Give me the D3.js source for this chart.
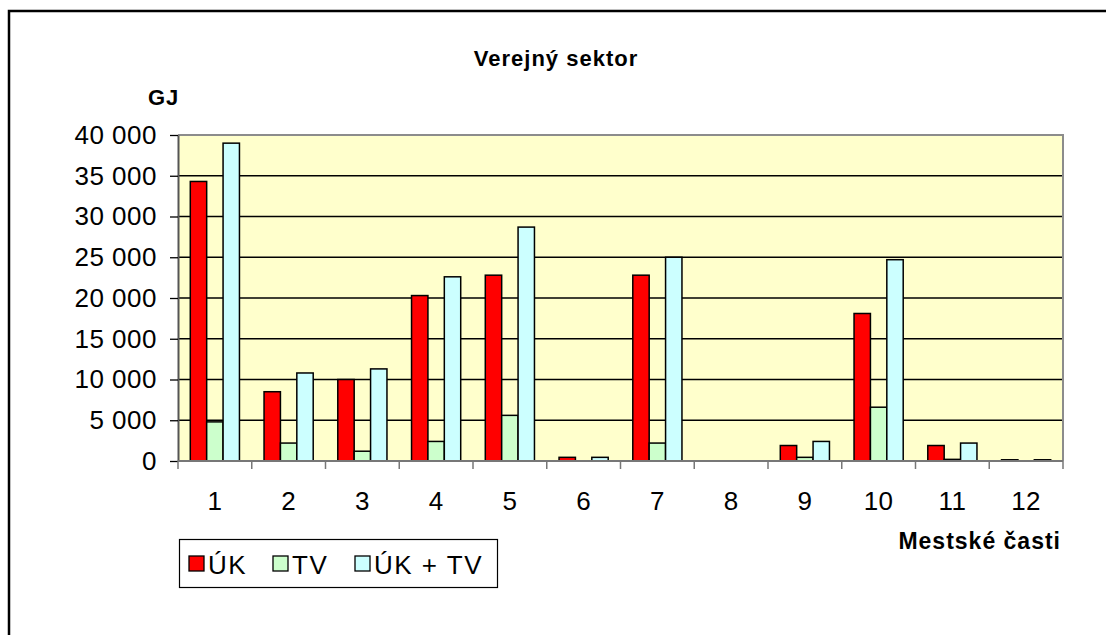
<!DOCTYPE html>
<html>
<head>
<meta charset="utf-8">
<script src="https://cdn.jsdelivr.net/npm/d3@7"></script>
<style>
	body { margin: 0; background: #fff; }
	svg { display: block; font-family: "Liberation Sans", Arial, sans-serif; }
</style>
</head>
<body>
<div id="chart"></div>
<script>
// Mestské časti 1..12
const categories = ["1", "2", "3", "4", "5", "6", "7", "8", "9", "10", "11", "12"];
const ukValues   = [34300, 8500, 10000, 20300, 22800, 450, 22800, 0, 1900, 18100, 1900, 150];
const tvValues   = [4800, 2200, 1200, 2400, 5600, 0, 2200, 0, 450, 6600, 200, 0];
const ukTvValues = [39000, 10800, 11300, 22600, 28700, 450, 25000, 0, 2400, 24700, 2200, 150];
const seriesNames = ["ÚK", "TV", "ÚK + TV"];
const yTicks = [0, 5000, 10000, 15000, 20000, 25000, 30000, 35000, 40000];

const colors = ["#ff0000", "#ccffcc", "#ccffff"];
const width = 1106, height = 635;
const plot = { left: 178, right: 1063, top: 135, bottom: 461 };

let svg = d3.select("#chart")
			.append("svg")
			.attr("width", width)
			.attr("height", height);

// outer frame (runs past the right/bottom edge)
svg.append("rect")
	.attr("x", 9).attr("y", 11)
	.attr("width", 1300).attr("height", 800)
	.attr("fill", "none")
	.attr("stroke", "#000")
	.attr("stroke-width", 2.5);

const xScale = d3.scaleBand()
				.domain(categories)
				.range([plot.left, plot.right]);
const innerScale = d3.scaleBand()
				.domain(seriesNames)
				.range([0, xScale.bandwidth()])
				.paddingOuter(0.75);
const yScale = d3.scaleLinear()
				.domain([0, 40000])
				.range([plot.bottom, plot.top]);

// plot background
svg.append("rect")
	.attr("x", plot.left).attr("y", plot.top)
	.attr("width", plot.right - plot.left)
	.attr("height", plot.bottom - plot.top)
	.attr("fill", "#ffffcc");

// gridlines
svg.append("g")
	.selectAll("line")
	.data(yTicks.filter(d => d > 0 && d < 40000))
	.enter()
	.append("line")
	.attr("x1", plot.left).attr("x2", plot.right)
	.attr("y1", d => yScale(d)).attr("y2", d => yScale(d))
	.attr("stroke", "#000")
	.attr("stroke-width", 1.3);

// plot border top / right
svg.append("path")
	.attr("d", `M${plot.left},${plot.top}H${plot.right}V${plot.bottom}`)
	.attr("fill", "none")
	.attr("stroke", "#8c8c8c")
	.attr("stroke-width", 2);

// bars
const rows = categories.map((c, i) => ({
	cat: c,
	vals: [ukValues[i], tvValues[i], ukTvValues[i]]
}));

svg.append("g")
	.selectAll("g")
	.data(rows)
	.enter()
	.append("g")
	.attr("transform", d => `translate(${xScale(d.cat)},0)`)
	.selectAll("rect")
	.data(d => d.vals.map((v, k) => ({ name: seriesNames[k], value: v, k: k })).filter(e => e.value > 0))
	.enter()
	.append("rect")
	.attr("x", d => innerScale(d.name))
	.attr("y", d => yScale(d.value))
	.attr("width", innerScale.bandwidth())
	.attr("height", d => plot.bottom - yScale(d.value))
	.attr("fill", d => colors[d.k])
	.attr("stroke", "#000")
	.attr("stroke-width", 1.5);

// y axis
const yAxis = d3.axisLeft(yScale)
				.tickValues(yTicks)
				.tickSize(8)
				.tickSizeOuter(0)
				.tickPadding(13)
				.tickFormat(d => d3.format(",")(d).replace(/,/g, " "));
let yG = svg.append("g")
	.attr("transform", `translate(${plot.left},0)`)
	.call(yAxis);
yG.select(".domain").attr("stroke", "#555").attr("stroke-width", 2);
yG.selectAll(".tick line").attr("stroke", "#000").attr("stroke-width", 1.3);
yG.selectAll("text")
	.attr("fill", "#000")
	.style("font-size", "26px")
	.style("letter-spacing", "0.5px")
	.style("font-family", "'Liberation Sans', Arial, sans-serif");

// x axis: ticks between categories, labels centred
let xG = svg.append("g");
xG.append("line")
	.attr("x1", plot.left).attr("x2", plot.right)
	.attr("y1", plot.bottom).attr("y2", plot.bottom)
	.attr("stroke", "#777").attr("stroke-width", 2);
const boundaries = categories.map(c => xScale(c)).concat([plot.right]);
xG.selectAll(".xtick")
	.data(boundaries)
	.enter()
	.append("line")
	.attr("x1", d => d).attr("x2", d => d)
	.attr("y1", plot.bottom).attr("y2", plot.bottom + 8)
	.attr("stroke", "#777").attr("stroke-width", 1.5);
xG.selectAll(".xlabel")
	.data(categories)
	.enter()
	.append("text")
	.attr("x", d => xScale(d) + xScale.bandwidth() / 2)
	.attr("y", 510)
	.attr("text-anchor", "middle")
	.style("font-size", "26px")
	.style("letter-spacing", "0.5px")
	.text(d => d);

// titles
svg.append("text")
	.attr("x", 556).attr("y", 66)
	.attr("text-anchor", "middle")
	.style("font-size", "22px").style("font-weight", "bold")
	.style("letter-spacing", "1px")
	.text("Verejný sektor");
svg.append("text")
	.attr("x", 148).attr("y", 105)
	.style("font-size", "22px").style("font-weight", "bold")
	.style("letter-spacing", "1px")
	.text("GJ");
svg.append("text")
	.attr("x", 1061).attr("y", 549)
	.attr("text-anchor", "end")
	.style("font-size", "23px").style("font-weight", "bold")
	.style("letter-spacing", "1px")
	.text("Mestské časti");

// legend
let legend = svg.append("g");
legend.append("rect")
	.attr("x", 179.5).attr("y", 539.5)
	.attr("width", 318).attr("height", 48)
	.attr("fill", "#fff")
	.attr("stroke", "#000").attr("stroke-width", 1.2);
const legendX = [189, 273, 355];
seriesNames.forEach((name, k) => {
	legend.append("rect")
		.attr("x", legendX[k]).attr("y", 556)
		.attr("width", 15).attr("height", 15)
		.attr("fill", colors[k])
		.attr("stroke", "#000").attr("stroke-width", 1.3);
	legend.append("text")
		.attr("x", legendX[k] + 19).attr("y", 574)
		.style("font-size", "26px")
		.style("letter-spacing", "1.5px")
		.text(name);
});
</script>
</body>
</html>
